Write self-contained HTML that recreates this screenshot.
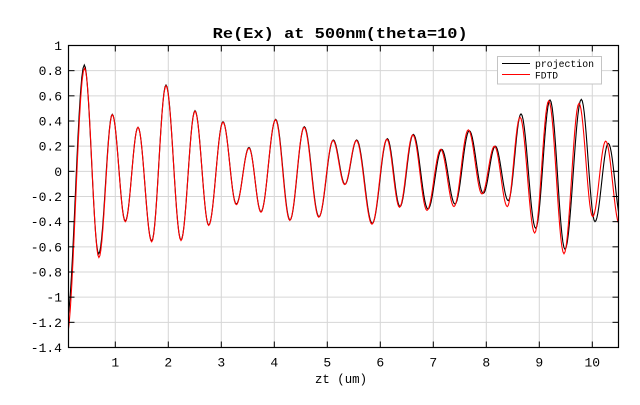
<!DOCTYPE html>
<html>
<head>
<meta charset="utf-8">
<style>
  html,body{margin:0;padding:0;background:#fff;}
  svg{display:block;}
  text{font-family:"Liberation Mono","DejaVu Sans Mono",monospace;fill:#000;}
</style>
</head>
<body>
<svg id="chart" width="640" height="405" viewBox="0 0 640 405" xmlns="http://www.w3.org/2000/svg">
  <defs>
    <clipPath id="plotclip"><rect x="68.5" y="45.5" width="550" height="302"/></clipPath>
  </defs>
  <rect x="0" y="0" width="640" height="405" fill="#fff"/>
  <rect x="68.5" y="45.5" width="550" height="302" fill="#fff"/>
  <g id="grid" stroke="#d6d6d6" stroke-width="1"></g>
  <g clip-path="url(#plotclip)">
    <path id="blk" fill="none" stroke="#000" stroke-width="1.1"/>
    <path id="red" fill="none" stroke="#ff0000" stroke-width="1.1"/>
  </g>
  <g id="ticks" stroke="#000" stroke-width="1"></g>
  <rect x="68.5" y="45.5" width="550" height="302" fill="none" stroke="#000" stroke-width="1.2"/>
  <g id="labels" font-size="13"></g>

  <text x="212.7" y="38" font-size="15" font-weight="bold" textLength="255" lengthAdjust="spacingAndGlyphs">Re(Ex) at 500nm(theta=10)</text>
  <text x="315" y="383" font-size="12.5" textLength="52" lengthAdjust="spacingAndGlyphs">zt (um)</text>

  <!-- legend -->
  <rect x="497.5" y="56.5" width="104" height="27.5" fill="#fff" stroke="#c4c4c4" stroke-width="1"/>
  <line x1="502" y1="63.5" x2="530" y2="63.5" stroke="#000" stroke-width="1"/>
  <line x1="502" y1="74.5" x2="530" y2="74.5" stroke="#ff0000" stroke-width="1"/>
  <text x="535" y="67" font-size="10" textLength="59" lengthAdjust="spacingAndGlyphs">projection</text>
  <text x="535" y="78.5" font-size="10" textLength="23" lengthAdjust="spacingAndGlyphs">FDTD</text>
</svg>
<script>
(function(){
  var NS="http://www.w3.org/2000/svg";
  var L=68.5,R=618.5,T=45.5,B=347.5;
  function vy(v){return T+(1-v)*125.83;}
  var grid=document.getElementById('grid');
  var ticks=document.getElementById('ticks');
  var labels=document.getElementById('labels');
  function line(g,x1,y1,x2,y2){var l=document.createElementNS(NS,'line');
    l.setAttribute('x1',x1);l.setAttribute('y1',y1);l.setAttribute('x2',x2);l.setAttribute('y2',y2);g.appendChild(l);}
  function text(g,x,y,s,anchor){var t=document.createElementNS(NS,'text');
    t.setAttribute('x',x);t.setAttribute('y',y);t.setAttribute('text-anchor',anchor);t.textContent=s;g.appendChild(t);}
  for(var k=1;k<=10;k++){
    var x=62.3+53*k;
    line(grid,x,T,x,B);
    line(ticks,x,B,x,B-6);
    line(ticks,x,T,x,T+6);
    text(labels,x,366.5,String(k),'middle');
  }
  var ylab=['1','0.8','0.6','0.4','0.2','0','-0.2','-0.4','-0.6','-0.8','-1','-1.2','-1.4'];
  for(var i=0;i<13;i++){
    var v=1-0.2*i, y=vy(v);
    if(i>0&&i<12) line(grid,L,y,R,y);
    line(ticks,L,y,L+6,y);
    line(ticks,R,y,R-6,y);
    text(labels,62,y+4.5,ylab[i],'end');
  }
  var black=[[66.5,-1.2],[84.3,0.845],[98.7,-0.655],[112.3,0.453],[125.3,-0.395],[138,0.35],[151.7,-0.554],[166,0.686],[181,-0.546],[195,0.482],[208.7,-0.427],[223,0.394],[236.3,-0.26],[249,0.19],[261,-0.321],[275.7,0.413],[290,-0.387],[304.3,0.355],[319,-0.361],[333.3,0.249],[345,-0.103],[356.7,0.249],[372.3,-0.414],[387.3,0.26],[400,-0.28],[413.3,0.294],[428,-0.30],[441.7,0.175],[455,-0.26],[469.3,0.323],[483.3,-0.175],[495.3,0.2],[508.3,-0.233],[521,0.456],[535.7,-0.453],[550,0.567],[565,-0.62],[581.3,0.572],[595,-0.40],[608.3,0.222],[622,-0.42]];
  var red=[[66.5,-1.32],[84.6,0.82],[98.9,-0.685],[112.3,0.45],[125.3,-0.40],[138,0.35],[151.7,-0.56],[166,0.68],[181,-0.55],[195,0.478],[208.7,-0.43],[223,0.39],[236.3,-0.265],[249,0.185],[261,-0.325],[275.5,0.41],[289.8,-0.39],[304.1,0.35],[318.8,-0.365],[333,0.245],[344.7,-0.105],[356.4,0.245],[372,-0.42],[386.9,0.255],[399.5,-0.285],[412.8,0.29],[427,-0.31],[440.7,0.175],[454,-0.28],[468.3,0.33],[482,-0.18],[494.5,0.2],[507.3,-0.28],[520,0.43],[534.7,-0.49],[548.7,0.56],[564,-0.655],[579,0.54],[592.7,-0.36],[605.7,0.24],[619.5,-0.42]];
  function build(ext){
    var d='';
    for(var i=0;i<ext.length-1;i++){
      var x0=ext[i][0],v0=ext[i][1],x1=ext[i+1][0],v1=ext[i+1][1];
      var n=14;
      for(var j=(i==0?0:1);j<=n;j++){
        var t=j/n;
        var x=x0+(x1-x0)*t;
        var v=v0+(v1-v0)*(1-Math.cos(Math.PI*t))/2;
        d+=(d?'L':'M')+x.toFixed(2)+','+vy(v).toFixed(2);
      }
    }
    return d;
  }
  document.getElementById('blk').setAttribute('d',build(black));
  document.getElementById('red').setAttribute('d',build(red));
})();
</script>
</body>
</html>
